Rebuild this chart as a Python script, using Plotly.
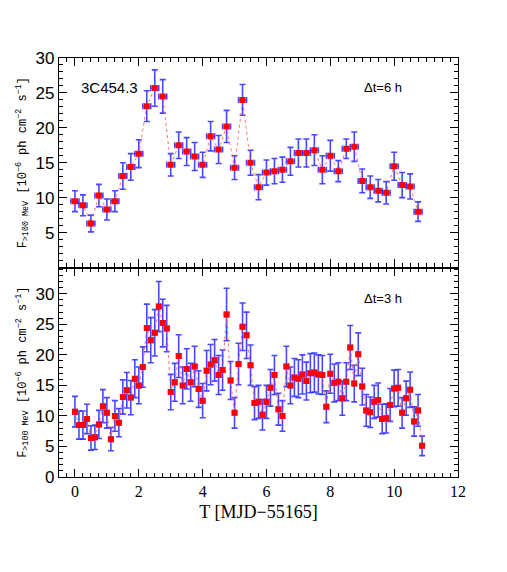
import plotly.graph_objects as go
from plotly.subplots import make_subplots

# 6 h bins (top panel)
t6 = [i * 0.25 for i in range(44)]
f6 = [9.5, 8.9, 6.3, 10.3, 8.3, 9.5, 13.1, 14.4, 16.3, 23.1, 25.7, 24.5,
      14.7, 17.5, 16.6, 15.9, 14.7, 18.8, 16.9, 20.2, 14.3, 24.0, 15.0, 11.5,
      13.6, 13.8, 14.0, 15.2, 16.4, 16.4, 16.8, 14.0, 16.0, 13.8, 17.0, 17.3,
      12.4, 11.5, 11.0, 10.7, 14.5, 11.8, 11.6, 8.0]
e6 = [1.5, 1.5, 1.2, 1.6, 1.5, 1.5, 1.9, 1.9, 2.0, 2.2, 2.6, 2.4,
      1.6, 1.9, 2.0, 2.0, 1.8, 2.1, 2.0, 2.3, 1.7, 2.2, 1.8, 1.8,
      1.8, 1.8, 1.8, 2.0, 2.0, 2.0, 2.2, 2.0, 2.2, 1.5, 1.4, 2.1,
      1.7, 1.6, 1.6, 1.6, 2.0, 1.8, 1.8, 1.4]

# 3 h bins (bottom panel)
t3 = [i * 0.125 for i in range(88)]
f3 = [10.7, 8.5, 8.5, 9.5, 6.4, 6.5, 8.6, 11.6, 10.5, 6.2, 10.0, 8.9,
      13.1, 14.2, 13.0, 16.1, 15.0, 18.0, 24.4, 22.4, 23.6, 27.9, 25.2, 24.3,
      13.9, 15.5, 19.8, 15.0, 17.7, 15.5, 18.1, 14.4, 12.5, 17.4, 18.4, 19.1,
      16.7, 17.5, 26.6, 15.8, 10.5, 18.5, 24.6, 23.2, 18.3, 12.1, 12.3, 10.2,
      12.3, 14.6, 16.7, 11.1, 10.0, 18.1, 15.0, 16.3, 16.1, 16.8, 15.7, 17.0,
      17.1, 16.8, 16.7, 11.5, 16.9, 15.4, 15.6, 12.9, 15.6, 21.2, 15.3, 20.1,
      14.8, 10.9, 10.6, 12.3, 12.6, 9.5, 9.6, 11.8, 14.5, 14.6, 10.5, 12.9,
      14.3, 9.1, 10.9, 5.1]
e3 = [2.5, 2.3, 2.3, 2.4, 2.0, 2.0, 2.3, 2.7, 2.5, 1.9, 2.5, 2.3,
      2.8, 2.9, 2.8, 3.1, 3.0, 3.3, 3.9, 3.7, 3.8, 4.1, 3.9, 3.8,
      2.9, 3.1, 3.5, 3.0, 3.3, 3.1, 3.3, 3.0, 2.8, 3.3, 3.3, 3.4,
      3.2, 3.3, 4.3, 3.1, 2.5, 3.4, 3.9, 3.8, 3.3, 2.7, 2.7, 2.5,
      2.7, 3.0, 3.2, 2.6, 2.5, 3.3, 3.0, 3.1, 3.1, 3.2, 3.1, 3.2,
      3.2, 3.2, 3.2, 2.6, 3.2, 3.1, 3.1, 2.8, 3.1, 3.6, 3.0, 3.5,
      3.0, 2.6, 2.5, 2.7, 2.8, 2.4, 2.4, 2.7, 3.0, 3.0, 2.5, 2.8,
      2.9, 2.4, 2.6, 1.6]

blue = 'rgba(40,40,255,0.85)'
red = '#ff0000'

fig = make_subplots(rows=2, cols=1, shared_xaxes=True, vertical_spacing=0)

def add_lc(t, f, e, dt, row):
    fig.add_trace(go.Scatter(
        x=t, y=f, mode='lines+markers',
        line=dict(color='rgba(255,80,80,0.8)', width=1, dash='dot'),
        marker=dict(symbol='square', size=6, color=red),
        error_y=dict(type='data', array=e, color=blue, thickness=1.6, width=3),
        error_x=dict(type='constant', value=dt / 2, color=blue, thickness=1.6, width=3),
        showlegend=False), row=row, col=1)

add_lc(t6, f6, e6, 0.25, 1)
add_lc(t3, f3, e3, 0.125, 2)

axcommon = dict(showline=True, linecolor='black', linewidth=1.2, mirror='allticks',
                ticks='inside', tickcolor='black', showgrid=False, zeroline=False)

fig.update_xaxes(range=[-0.5, 12], tickvals=[0, 2, 4, 6, 8, 10, 12], ticklen=8,
                 minor=dict(dtick=0.25, tick0=0, ticks='inside', ticklen=4, tickcolor='black'),
                 tickfont=dict(family='Liberation Serif', size=16, color='black'),
                 **axcommon)
fig.update_xaxes(title=dict(text='T [MJD\u221255165]', standoff=6,
                            font=dict(family='Liberation Serif', size=18, color='black')),
                 row=2, col=1)

ytitle = ('F<sub>>100 MeV</sub> [10<sup>\u22126</sup> ph cm<sup>\u22122</sup> s<sup>\u22121</sup>]')
yfont = dict(family='Liberation Mono', size=12, color='black')
fig.update_yaxes(range=[0, 30], tickvals=[5, 10, 15, 20, 25, 30], row=1, col=1)
fig.update_yaxes(range=[0, 34.3], tickvals=[0, 5, 10, 15, 20, 25, 30], row=2, col=1)
fig.update_yaxes(ticklen=8,
                 minor=dict(dtick=1, tick0=0, ticks='inside', ticklen=4, tickcolor='black'),
                 tickfont=dict(family='Liberation Sans', size=17, color='black'),
                 title=dict(text=ytitle, font=yfont, standoff=6),
                 **axcommon)

fig.add_annotation(text='3C454.3', xref='x domain', yref='y domain', x=0.05, y=0.86,
                   xanchor='left', yanchor='middle', showarrow=False,
                   font=dict(family='Liberation Sans', size=15, color='black'))
fig.add_annotation(text='\u0394t=6 h', xref='x domain', yref='y domain', x=0.76, y=0.86,
                   xanchor='left', yanchor='middle', showarrow=False,
                   font=dict(family='Liberation Sans', size=13, color='black'))
fig.add_annotation(text='\u0394t=3 h', xref='x2 domain', yref='y2 domain', x=0.76, y=0.85,
                   xanchor='left', yanchor='middle', showarrow=False,
                   font=dict(family='Liberation Sans', size=13, color='black'))

# page body adds 8 px, so the figure is 8 px smaller and margins shifted
fig.update_layout(width=499, height=564, margin=dict(l=51, r=49, t=50, b=95),
                  plot_bgcolor='white', paper_bgcolor='white')

fig.write_html("out.html")
